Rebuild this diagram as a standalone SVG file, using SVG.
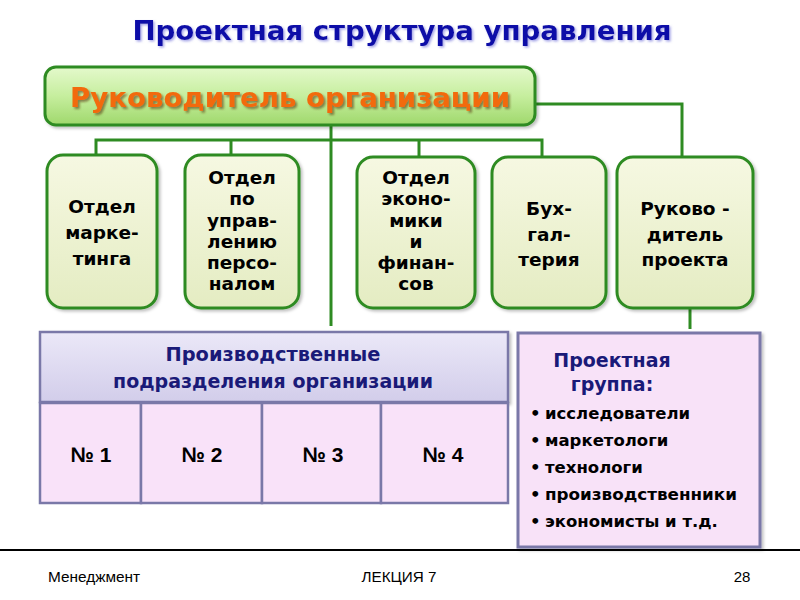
<svg xmlns="http://www.w3.org/2000/svg" width="800" height="600" viewBox="0 0 800 600">
<defs>
<linearGradient id="gTop" x1="0" y1="0" x2="0" y2="1">
<stop offset="0" stop-color="#e4f9cc"/>
<stop offset="0.5" stop-color="#c6ee9e"/>
<stop offset="1" stop-color="#9fd86c"/>
</linearGradient>
<linearGradient id="gBox" x1="0" y1="0" x2="0" y2="1">
<stop offset="0" stop-color="#f6f8e2"/>
<stop offset="1" stop-color="#e4ecc2"/>
</linearGradient>
<linearGradient id="gHead" x1="0" y1="0" x2="0" y2="1">
<stop offset="0" stop-color="#ebe8f8"/>
<stop offset="1" stop-color="#d2cdea"/>
</linearGradient>
<filter id="shadow" x="-10%" y="-10%" width="130%" height="130%">
<feDropShadow dx="2" dy="2" stdDeviation="1.5" flood-color="#000" flood-opacity="0.25"/>
</filter>
<filter id="tshadow" x="-5%" y="-20%" width="110%" height="150%">
<feDropShadow dx="2" dy="2" stdDeviation="1" flood-color="#5a3a10" flood-opacity="0.6"/>
</filter>
<filter id="titleShadow" x="-5%" y="-20%" width="110%" height="150%">
<feDropShadow dx="1.5" dy="1.5" stdDeviation="1.2" flood-color="#6a6ad8" flood-opacity="0.6"/>
</filter>
</defs>
<style>
.conn{fill:none;stroke:#2e8b22;stroke-width:3}
.dept{fill:url(#gBox);stroke:#2e8b22;stroke-width:3}
.dt{font-family:"DejaVu Sans",Verdana,sans-serif;font-weight:bold;font-size:18.5px;fill:#000;text-anchor:middle}
.nav{font-family:"DejaVu Sans",Verdana,sans-serif;font-weight:bold;fill:#1a1a78}
.cell{fill:#f9e2f9;stroke:#7a78a8;stroke-width:2.5}
.num{font-family:"Liberation Sans",Arial,sans-serif;font-weight:bold;font-size:21px;fill:#000;text-anchor:middle}
.bl{font-family:"DejaVu Sans",Verdana,sans-serif;font-weight:bold;font-size:16.5px;fill:#000}
.ft{font-family:"Liberation Sans",Arial,sans-serif;font-size:15px;fill:#000}
</style>
<rect width="800" height="600" fill="#fff"/>

<text x="402" y="40" font-family="DejaVu Sans,Verdana,sans-serif" font-weight="bold" font-size="27" fill="#1010a8" text-anchor="middle" textLength="539" lengthAdjust="spacingAndGlyphs" filter="url(#titleShadow)">Проектная структура управления</text>

<g id="connectors">
<line class="conn" x1="331" y1="124" x2="331" y2="326"/>
<polyline class="conn" points="96,156 96,140 542,140 542,158"/>
<line class="conn" x1="231" y1="140" x2="231" y2="156"/>
<line class="conn" x1="419" y1="140" x2="419" y2="158"/>
<polyline class="conn" points="534,104 682,104 682,158"/>
<line class="conn" x1="690" y1="308" x2="690" y2="329"/>
</g>

<g id="head">
<rect x="45" y="67" width="490" height="58" rx="11" fill="url(#gTop)" stroke="#2e8b22" stroke-width="3" filter="url(#shadow)"/>
<text x="290" y="107" font-family="DejaVu Sans,Verdana,sans-serif" font-weight="bold" font-size="26" fill="#f26a0a" text-anchor="middle" textLength="440" lengthAdjust="spacingAndGlyphs" filter="url(#tshadow)">Руководитель организации</text>
</g>

<g id="dept-marketing">
<rect class="dept" x="47" y="155" width="110" height="153" rx="16" filter="url(#shadow)"/>
<text class="dt" x="102" y="213">Отдел</text>
<text class="dt" x="102" y="239">марке-</text>
<text class="dt" x="102" y="265">тинга</text>
</g>

<g id="dept-hr">
<rect class="dept" x="185" y="155" width="114" height="153" rx="16" filter="url(#shadow)"/>
<text class="dt" x="242" y="184">Отдел</text>
<text class="dt" x="242" y="205">по</text>
<text class="dt" x="242" y="227">управ-</text>
<text class="dt" x="242" y="248">лению</text>
<text class="dt" x="242" y="269">персо-</text>
<text class="dt" x="242" y="290">налом</text>
</g>

<g id="dept-econ">
<rect class="dept" x="357" y="157" width="118" height="151" rx="16" filter="url(#shadow)"/>
<text class="dt" x="416" y="184">Отдел</text>
<text class="dt" x="416" y="205">эконо-</text>
<text class="dt" x="416" y="227">мики</text>
<text class="dt" x="416" y="248">и</text>
<text class="dt" x="416" y="269">финан-</text>
<text class="dt" x="416" y="290">сов</text>
</g>

<g id="dept-acc">
<rect class="dept" x="492" y="157" width="114" height="151" rx="16" filter="url(#shadow)"/>
<text class="dt" x="549" y="215">Бух-</text>
<text class="dt" x="549" y="241">гал-</text>
<text class="dt" x="549" y="266">терия</text>
</g>

<g id="project-manager">
<rect class="dept" x="617" y="157" width="136" height="151" rx="16" filter="url(#shadow)"/>
<text class="dt" x="685" y="215">Руково -</text>
<text class="dt" x="685" y="241">дитель</text>
<text class="dt" x="685" y="266">проекта</text>
</g>

<g id="production">
<rect x="40" y="332" width="468" height="70" fill="url(#gHead)" stroke="#7a78a8" stroke-width="2.5" filter="url(#shadow)"/>
<text class="nav" x="273" y="361" font-size="19" text-anchor="middle" textLength="215" lengthAdjust="spacingAndGlyphs">Производственные</text>
<text class="nav" x="273" y="388" font-size="19" text-anchor="middle" textLength="320" lengthAdjust="spacingAndGlyphs">подразделения организации</text>
<rect class="cell" x="40" y="403" width="101" height="100"/>
<rect class="cell" x="141" y="403" width="121" height="100"/>
<rect class="cell" x="262" y="403" width="119" height="100"/>
<rect class="cell" x="381" y="403" width="127" height="100"/>
<text class="num" x="91" y="462">№ 1</text>
<text class="num" x="202" y="462">№ 2</text>
<text class="num" x="323" y="462">№ 3</text>
<text class="num" x="443" y="462">№ 4</text>
</g>

<g id="project-group">
<rect x="518" y="333" width="242" height="214" fill="#f8e2f8" stroke="#7a78a8" stroke-width="3" filter="url(#shadow)"/>
<text class="nav" x="612" y="367" font-size="19" text-anchor="middle">Проектная</text>
<text class="nav" x="612" y="391" font-size="19" text-anchor="middle">группа:</text>
<g class="bl">
<text x="530" y="419">•</text><text x="545" y="419">исследователи</text>
<text x="530" y="446">•</text><text x="545" y="446">маркетологи</text>
<text x="530" y="473">•</text><text x="545" y="473">технологи</text>
<text x="530" y="500">•</text><text x="545" y="500" textLength="192" lengthAdjust="spacingAndGlyphs">производственники</text>
<text x="530" y="527">•</text><text x="545" y="527">экономисты  и т.д.</text>
</g>
</g>

<g id="footer">
<line x1="0" y1="550" x2="800" y2="550" stroke="#000" stroke-width="2"/>
<text class="ft" x="48" y="582" textLength="92" lengthAdjust="spacingAndGlyphs">Менеджмент</text>
<text class="ft" x="399" y="582" text-anchor="middle" textLength="75" lengthAdjust="spacingAndGlyphs">ЛЕКЦИЯ 7</text>
<text class="ft" x="742" y="582" text-anchor="middle">28</text>
</g>
</svg>
